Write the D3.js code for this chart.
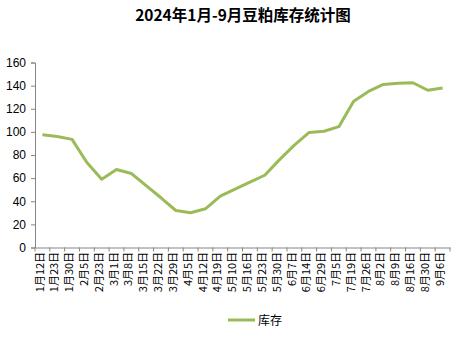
<!DOCTYPE html>
<html><head><meta charset="utf-8">
<script src="https://cdn.jsdelivr.net/npm/d3@7"></script>
<style>body{margin:0;background:#fff;}svg{display:block;}</style>
</head><body>
<script>
const categories = ["1月12日","1月23日","1月30日","2月5日","2月23日","3月1日","3月8日","3月15日","3月22日","3月29日","4月5日","4月12日","4月19日","5月10日","5月16日","5月23日","5月30日","6月7日","6月14日","6月29日","7月5日","7月19日","7月26日","8月2日","8月9日","8月16日","8月30日","9月6日"];
const stock = [97.5,96,93.5,73.5,59,67.5,64,53.5,43,32,30,33.5,44.5,50.5,56.5,62.5,76,88.5,99.5,100.5,104.5,126.5,135,141,142,142.5,136,138];
const yTicks = [0,20,40,60,80,100,120,140,160];
const seriesName = "库存";
const title = "2024年1月-9月豆粕库存统计图";

const W=472,H=344;
const svg=d3.select("body").append("svg").attr("width",W).attr("height",H);
const m={l:35,r:22,t:63,b:97};
const x=d3.scaleBand().domain(categories).range([m.l,W-m.r]);
const y=d3.scaleLinear().domain([0,160]).range([247.5,62.5]);

svg.append("text").attr("x",243).attr("y",21).attr("text-anchor","middle")
  .attr("font-family","'Noto Sans CJK SC'").attr("font-weight","bold").attr("font-size",15.5).text(title);

const ya=svg.append("g").attr("transform",`translate(${m.l},0)`)
  .call(d3.axisLeft(y).tickValues(yTicks).tickSize(4).tickPadding(5));
ya.selectAll("text").attr("font-family","'Liberation Sans',Arial").attr("font-size",12).attr("fill","#000");
ya.selectAll("path,line").attr("stroke","#868686");

const xa=svg.append("g").attr("transform",`translate(0,${y(0)})`)
  .call(d3.axisBottom(x).tickSize(0).tickPadding(5));
xa.select("path").attr("stroke","#868686");
xa.selectAll("text").attr("font-family","'Noto Sans CJK SC'").attr("font-size",11).attr("fill","#000")
  .attr("text-anchor","end").attr("transform","rotate(-90)").attr("dx","-0.4em").attr("dy","-0.35em");
// tick marks at category boundaries
const bounds=categories.map(c=>x(c)).concat([x.range()[1]]);
svg.append("g").selectAll("line").data(bounds).join("line")
  .attr("x1",d=>d).attr("x2",d=>d).attr("y1",y(0)).attr("y2",y(0)+4).attr("stroke","#868686");

const line=d3.line().x((d,i)=>x(categories[i])+x.bandwidth()/2).y(d=>y(d));
svg.append("path").datum(stock).attr("d",line).attr("fill","none")
  .attr("stroke","#9BBB59").attr("stroke-width",3).attr("stroke-linejoin","round");

svg.append("line").attr("x1",228).attr("x2",255).attr("y1",320).attr("y2",320)
  .attr("stroke","#9BBB59").attr("stroke-width",3);
svg.append("text").attr("x",258).attr("y",325).attr("font-family","'Noto Sans CJK SC'").attr("font-size",12).text(seriesName);
</script>
</body></html>
